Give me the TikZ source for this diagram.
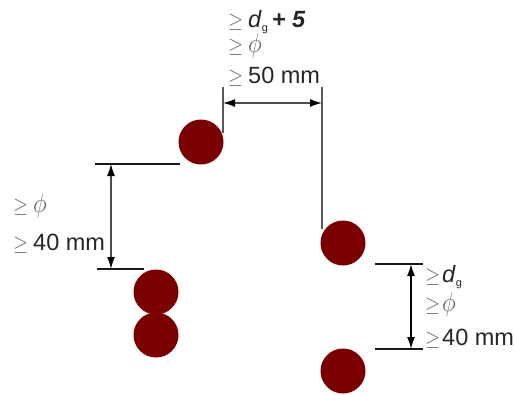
\documentclass[tikz,border=0pt]{standalone}
\usepackage{fontspec}
\usepackage{graphicx}
\setmainfont{Liberation Sans}
\usetikzlibrary{arrows.meta}
\definecolor{barred}{RGB}{122,0,0}
\newcommand{\gq}[1][20pt]{\makebox[#1][l]{\color{black!60}\scalebox{0.78}[0.85]{$\geq$}}}
\newcommand{\ph}{{\color{black!60}\scalebox{0.95}[1.1]{$\phi$}}}
\newcommand{\sbg}{{\fontsize{11}{12}\selectfont\raisebox{-4pt}{g}}}
\tikzset{
  x=1pt,y=-1pt,
  rebar/.style={circle,fill=barred,minimum size=45pt,inner sep=0pt,draw=none},
  txt/.style={font=\fontsize{23.5}{26}\selectfont,text=black!85,inner sep=0pt,anchor=base west},
  ext/.style={line width=1.2pt,black!90},
  witness/.style={line width=1.3pt,black!65},
  dimline/.style={line width=1.3pt,black!70,{Latex[length=12pt,width=8pt,black]}-{Latex[length=12pt,width=8pt,black]}}
}
\begin{document}
\begin{tikzpicture}
\useasboundingbox (0,0) rectangle (514,394);
\node[rebar] (a) at (201,142) {};
\node[rebar] (b) at (343,243) {};
\node[rebar] (c) at (156,292) {};
\node[rebar] (d) at (156,335) {};
\node[rebar] (e) at (343,371) {};
\coordinate (t1) at (223,87); \coordinate (t1b) at (223,133);
\coordinate (t2) at (322,87); \coordinate (t2b) at (322,229);
\coordinate (d1) at (223,103); \coordinate (d2) at (322,103);
\draw[witness] (t1) -- (t1b);
\draw[witness] (t2) -- (t2b);
\draw[dimline] (d1) -- (d2);
\coordinate (l1) at (95,164); \coordinate (l1b) at (180,164);
\coordinate (l2) at (97,269); \coordinate (l2b) at (144,269);
\coordinate (l3) at (111,164); \coordinate (l4) at (111,269);
\draw[ext] (l1) -- (l1b);
\draw[ext] (l2) -- (l2b);
\draw[dimline] (l3) -- (l4);
\coordinate (r1) at (375,264); \coordinate (r1b) at (423,264);
\coordinate (r2) at (375,349); \coordinate (r2b) at (423,349);
\coordinate (r3) at (411,264); \coordinate (r4) at (411,349);
\draw[ext] (r1) -- (r1b);
\draw[ext] (r2) -- (r2b);
\draw[dimline,line width=1.7pt,black] (r3) -- (r4);
\node[txt] (t1l) at (228,27) {\gq\textit{d}\sbg\,\textbf{\textit{+ 5}}};
\node[txt] (t2l) at (228,52) {\gq\ph};
\node[txt] (t3l) at (228,83) {\gq 50 mm};
\node[txt] (l1l) at (13,212) {\gq\ph};
\node[txt] (l2l) at (13,250) {\gq 40 mm};
\node[txt] (r1l) at (425,282) {\gq[17pt]\textit{d}\sbg};
\node[txt] (r2l) at (425,311) {\gq[17pt]\ph};
\node[txt] (r3l) at (425,345) {\gq[17pt]40 mm};
\end{tikzpicture}
\end{document}
